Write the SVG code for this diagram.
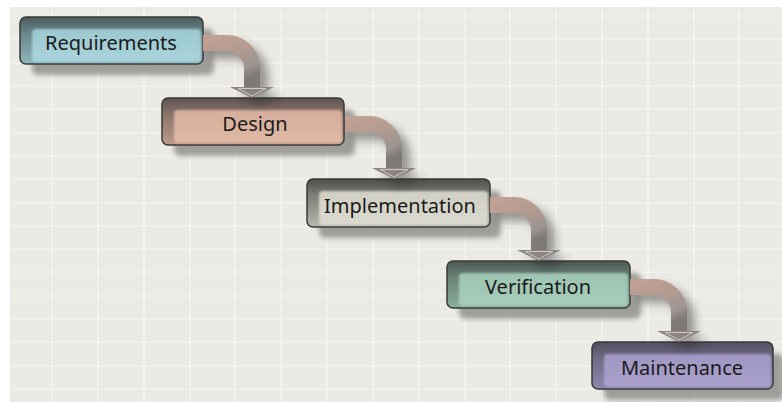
<svg xmlns="http://www.w3.org/2000/svg" width="782" height="402" viewBox="0 0 782 402">
<defs>
<style>
.grid line{stroke:#f6f5f1;stroke-width:1.6;opacity:0.85}
.shadow{fill:#7e7e7a;opacity:0.7;filter:url(#blur3)}
.box{stroke:#393939;stroke-width:1.5}
.inner{filter:url(#blur1)}
.lbl{font-family:"Noto Sans","Open Sans",sans-serif;font-size:20px;fill:#1a1a1a;text-anchor:middle}
.cshadow{fill:none;stroke:#2a2a2a;stroke-width:16;opacity:0.45;filter:url(#blur5)}
.cpath{fill:none;stroke:url(#cgrad);stroke-width:16}
.chead{fill:#8c8583}
.chead2{fill:none;stroke:#cfc9c4;stroke-width:1}
.hshadow{fill:#2a2a2a;opacity:0.45;filter:url(#blur5)}
</style>
<filter id="blur1" x="-10%" y="-20%" width="120%" height="140%"><feGaussianBlur stdDeviation="1.2"/></filter>
<filter id="blur3" x="-20%" y="-40%" width="140%" height="180%"><feGaussianBlur stdDeviation="2.5"/></filter>
<filter id="blur5" x="-50%" y="-50%" width="200%" height="200%"><feGaussianBlur stdDeviation="5"/></filter>
<linearGradient id="cgrad" x1="0" y1="0" x2="0.5" y2="1">
<stop offset="0" stop-color="#c0a092"/>
<stop offset="0.45" stop-color="#b29b90"/>
<stop offset="0.8" stop-color="#9c9592"/>
<stop offset="1" stop-color="#7f7977"/>
</linearGradient>
<linearGradient id="g1" x1="0" y1="0" x2="0" y2="1"><stop offset="0" stop-color="#4b5b5e"/><stop offset="0.35" stop-color="#6b878c"/><stop offset="1" stop-color="#8db5bc"/></linearGradient>
<linearGradient id="i1" x1="0" y1="0" x2="0" y2="1"><stop offset="0" stop-color="#9cc8cf"/><stop offset="1" stop-color="#a9d4db"/></linearGradient>
<linearGradient id="g2" x1="0" y1="0" x2="0" y2="1"><stop offset="0" stop-color="#5e5452"/><stop offset="0.35" stop-color="#8a756c"/><stop offset="1" stop-color="#bd9a89"/></linearGradient>
<linearGradient id="i2" x1="0" y1="0" x2="0" y2="1"><stop offset="0" stop-color="#d5ae9b"/><stop offset="1" stop-color="#e0b9a5"/></linearGradient>
<linearGradient id="g3" x1="0" y1="0" x2="0" y2="1"><stop offset="0" stop-color="#4e4e4a"/><stop offset="0.35" stop-color="#7f7e77"/><stop offset="1" stop-color="#b8b7ab"/></linearGradient>
<linearGradient id="i3" x1="0" y1="0" x2="0" y2="1"><stop offset="0" stop-color="#d0cfc3"/><stop offset="1" stop-color="#dbdacf"/></linearGradient>
<linearGradient id="g4" x1="0" y1="0" x2="0" y2="1"><stop offset="0" stop-color="#4a5852"/><stop offset="0.35" stop-color="#6a8377"/><stop offset="1" stop-color="#8aae9d"/></linearGradient>
<linearGradient id="i4" x1="0" y1="0" x2="0" y2="1"><stop offset="0" stop-color="#9ec4b2"/><stop offset="1" stop-color="#a6ccba"/></linearGradient>
<linearGradient id="g5" x1="0" y1="0" x2="0" y2="1"><stop offset="0" stop-color="#52505e"/><stop offset="0.35" stop-color="#6f6a85"/><stop offset="1" stop-color="#8e87ae"/></linearGradient>
<linearGradient id="i5" x1="0" y1="0" x2="0" y2="1"><stop offset="0" stop-color="#a098c3"/><stop offset="1" stop-color="#a9a1cb"/></linearGradient>
</defs>
<rect x="0" y="0" width="782" height="402" fill="#ffffff"/>
<rect x="10" y="7" width="772" height="395" fill="#ebeae4"/>
<g class="grid">
<line x1="52" y1="7" x2="52" y2="402"/><line x1="98" y1="7" x2="98" y2="402"/><line x1="144" y1="7" x2="144" y2="402"/><line x1="190" y1="7" x2="190" y2="402"/><line x1="235" y1="7" x2="235" y2="402"/><line x1="281" y1="7" x2="281" y2="402"/><line x1="327" y1="7" x2="327" y2="402"/><line x1="373" y1="7" x2="373" y2="402"/><line x1="419" y1="7" x2="419" y2="402"/><line x1="465" y1="7" x2="465" y2="402"/><line x1="510" y1="7" x2="510" y2="402"/><line x1="556" y1="7" x2="556" y2="402"/><line x1="602" y1="7" x2="602" y2="402"/><line x1="648" y1="7" x2="648" y2="402"/><line x1="694" y1="7" x2="694" y2="402"/><line x1="739" y1="7" x2="739" y2="402"/>
<line x1="10" y1="16" x2="782" y2="16"/><line x1="10" y1="39" x2="782" y2="39"/><line x1="10" y1="63" x2="782" y2="63"/><line x1="10" y1="86" x2="782" y2="86"/><line x1="10" y1="109" x2="782" y2="109"/><line x1="10" y1="133" x2="782" y2="133"/><line x1="10" y1="156" x2="782" y2="156"/><line x1="10" y1="179" x2="782" y2="179"/><line x1="10" y1="203" x2="782" y2="203"/><line x1="10" y1="226" x2="782" y2="226"/><line x1="10" y1="249" x2="782" y2="249"/><line x1="10" y1="272" x2="782" y2="272"/><line x1="10" y1="296" x2="782" y2="296"/><line x1="10" y1="319" x2="782" y2="319"/><line x1="10" y1="342" x2="782" y2="342"/><line x1="10" y1="366" x2="782" y2="366"/><line x1="10" y1="389" x2="782" y2="389"/>
</g>
<g id="node-shadows">
<rect class="shadow" x="32" y="29" width="182" height="46" rx="6"/>
<rect class="shadow" x="174" y="110" width="181" height="46" rx="6"/>
<rect class="shadow" x="319" y="191" width="182" height="47" rx="6"/>
<rect class="shadow" x="459" y="273" width="182" height="46" rx="6"/>
<rect class="shadow" x="604" y="354" width="180" height="46" rx="6"/>
</g>
<g id="n1">
<rect class="box" x="20" y="17" width="183" height="47" rx="6" fill="url(#g1)"/>
<rect class="inner" x="32" y="29" width="169" height="33" rx="4" fill="url(#i1)"/>
<text class="lbl" x="111" y="50">Requirements</text>
</g>
<g id="n2">
<rect class="box" x="162" y="98" width="182" height="47" rx="6" fill="url(#g2)"/>
<rect class="inner" x="174" y="110" width="168" height="33" rx="4" fill="url(#i2)"/>
<text class="lbl" x="255" y="131">Design</text>
</g>
<g id="n3">
<rect class="box" x="307" y="179" width="183" height="48" rx="6" fill="url(#g3)"/>
<rect class="inner" x="319" y="191" width="169" height="34" rx="4" fill="url(#i3)"/>
<text class="lbl" x="400" y="213">Implementation</text>
</g>
<g id="n4">
<rect class="box" x="447" y="261" width="183" height="47" rx="6" fill="url(#g4)"/>
<rect class="inner" x="459" y="273" width="169" height="33" rx="4" fill="url(#i4)"/>
<text class="lbl" x="538" y="294">Verification</text>
</g>
<g id="n5">
<rect class="box" x="592" y="342" width="181" height="47" rx="6" fill="url(#g5)"/>
<rect class="inner" x="604" y="354" width="167" height="33" rx="4" fill="url(#i5)"/>
<text class="lbl" x="682" y="375">Maintenance</text>
</g>
<g id="connectors">
<g transform="translate(8,8)">
<path class="cshadow" d="M203 43 H227 A25 25 0 0 1 252 68 V87"/>
<polygon class="hshadow" points="230,87 274,87 252,98"/>
<path class="cshadow" d="M345 124 H369 A25 25 0 0 1 394 149 V168"/>
<polygon class="hshadow" points="372,168 416,168 394,179"/>
<path class="cshadow" d="M490 205 H514 A25 25 0 0 1 539 230 V250"/>
<polygon class="hshadow" points="517,250 561,250 539,261"/>
<path class="cshadow" d="M630 287 H654 A25 25 0 0 1 679 312 V331"/>
<polygon class="hshadow" points="657,331 701,331 679,342"/>
</g>
<path class="cpath" d="M203 43 H227 A25 25 0 0 1 252 68 V87"/>
<polygon class="chead" points="230,87 274,87 252,98"/>
<polygon class="chead2" points="238,88.5 266,88.5 252,96"/>
<path class="cpath" d="M345 124 H369 A25 25 0 0 1 394 149 V168"/>
<polygon class="chead" points="372,168 416,168 394,179"/>
<polygon class="chead2" points="380,169.5 408,169.5 394,177"/>
<path class="cpath" d="M490 205 H514 A25 25 0 0 1 539 230 V250"/>
<polygon class="chead" points="517,250 561,250 539,261"/>
<polygon class="chead2" points="525,251.5 553,251.5 539,259"/>
<path class="cpath" d="M630 287 H654 A25 25 0 0 1 679 312 V331"/>
<polygon class="chead" points="657,331 701,331 679,342"/>
<polygon class="chead2" points="665,332.5 693,332.5 679,340"/>
</g>
</svg>
